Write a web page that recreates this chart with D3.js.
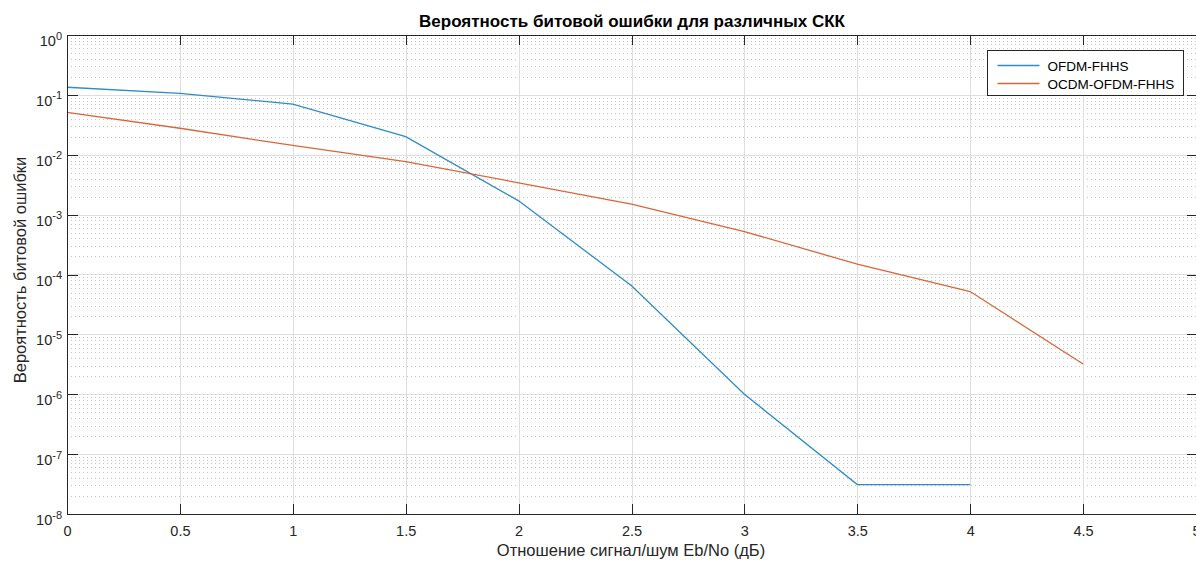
<!DOCTYPE html>
<html lang="ru">
<head>
<meta charset="UTF-8">
<title>BER</title>
<style>
	body { margin: 0; background: #fff; }
	svg { display: block; font-family: "Liberation Sans", Arial, sans-serif; }
	.Axis path, .Axis line { stroke: #262626; shape-rendering: crispEdges; }
	.Axis text { fill: #262626; font-size: 14.5px; }
	.grid line { shape-rendering: crispEdges; }
</style>
<script src="https://d3js.org/d3.v7.min.js"></script>
</head>
<body>
<script>
	// Eb/No, dB
	var snrOfdm = [0, 0.5, 1, 1.5, 2, 2.5, 3, 3.5, 4];
	var berOfdm = [0.134, 0.106, 0.070, 0.020, 1.7e-3, 6.5e-5, 1.0e-6, 3.1e-8, 3.1e-8];

	var snrOcdm = [0, 0.5, 1, 1.5, 2, 2.5, 3, 3.5, 4, 4.5];
	var berOcdm = [0.051, 0.0277, 0.0143, 7.7e-3, 3.4e-3, 1.5e-3, 5.2e-4, 1.49e-4, 5.2e-5, 3.2e-6];

	var seriesNames = ["OFDM-FHHS", "OCDM-OFDM-FHHS"];
	var xTicks = [0, 0.5, 1, 1.5, 2, 2.5, 3, 3.5, 4, 4.5, 5];
	var yExps = [0, -1, -2, -3, -4, -5, -6, -7, -8];

	const w = 1196, h = 562;
	const pLeft = 67, pRight = 1196, pTop = 35, pBottom = 514;

	const svg = d3.select("body").append("svg")
		.attr("width", w).attr("height", h);

	var xScale = d3.scaleLinear().domain([0, 5]).range([pLeft, pRight]);
	var yScale = d3.scaleLog().domain([1e-8, 1]).range([pBottom, pTop]);

	// grid
	var minor = [];
	yExps.slice(1).forEach(function(e) {
		for (let k = 2; k <= 9; k++) minor.push(k * Math.pow(10, e));
	});
	var g = svg.append("g").attr("class", "grid");
	g.selectAll(".minor").data(minor).enter().append("line")
		.attr("x1", pLeft).attr("x2", pRight)
		.attr("y1", d => Math.round(yScale(d)) + 0.5).attr("y2", d => Math.round(yScale(d)) + 0.5)
		.attr("stroke", "#c4c4c4").attr("stroke-dasharray", "1,3");
	g.selectAll(".hmaj").data(yExps).enter().append("line")
		.attr("x1", pLeft).attr("x2", pRight)
		.attr("y1", d => Math.round(yScale(Math.pow(10, d))) + 0.5)
		.attr("y2", d => Math.round(yScale(Math.pow(10, d))) + 0.5)
		.attr("stroke", "#dedede");
	g.selectAll(".vmaj").data(xTicks).enter().append("line")
		.attr("y1", pTop).attr("y2", pBottom)
		.attr("x1", d => Math.round(xScale(d)) + 0.5).attr("x2", d => Math.round(xScale(d)) + 0.5)
		.attr("stroke", "#dedede");

	// lines
	var line = d3.line().x(d => xScale(d[0])).y(d => yScale(d[1]));
	var colors = ["#2f8cc6", "#d9663a"];
	[[snrOfdm, berOfdm], [snrOcdm, berOcdm]].forEach(function(s, i) {
		svg.append("path")
			.datum(s[0].map((x, j) => [x, s[1][j]]))
			.attr("d", line)
			.attr("fill", "none")
			.attr("stroke", colors[i])
			.attr("stroke-width", 1.3);
	});

	// axes, ticks pointing in
	var xAxis = d3.axisBottom(xScale).tickValues(xTicks).tickSizeInner(-10).tickSizeOuter(0)
		.tickFormat(d => String(d));
	svg.append("g").attr("class", "Axis x")
		.attr("transform", "translate(0," + pBottom + ")")
		.call(xAxis)
		.selectAll("text").attr("dy", null).attr("y", 22);
	svg.append("g").attr("class", "Axis xt")
		.attr("transform", "translate(0," + pTop + ")")
		.call(d3.axisTop(xScale).tickValues(xTicks).tickSizeInner(-10).tickSizeOuter(0).tickFormat(""));

	var yAxis = d3.axisLeft(yScale).tickValues(yExps.map(e => Math.pow(10, e)))
		.tickSizeInner(-11).tickSizeOuter(0).tickFormat("");
	var ya = svg.append("g").attr("class", "Axis y")
		.attr("transform", "translate(" + pLeft + ",0)")
		.call(yAxis);
	ya.selectAll(".tick").each(function(d) {
		var e = Math.round(Math.log10(d));
		var t = d3.select(this).append("text")
			.attr("x", -5).attr("y", 10.5).attr("text-anchor", "end");
		t.append("tspan").text("10");
		t.append("tspan").attr("dy", -6.5).attr("font-size", "11px").text(String(e));
	});
	svg.append("g").attr("class", "Axis yr")
		.attr("transform", "translate(" + (pRight - 0.5) + ",0)")
		.call(d3.axisRight(yScale).tickValues(yExps.map(e => Math.pow(10, e)))
			.tickSizeInner(-9).tickSizeOuter(0).tickFormat(""));

	// titles
	svg.append("text").attr("x", 632).attr("y", 27).attr("text-anchor", "middle")
		.attr("font-size", "17px").attr("font-weight", "bold").attr("fill", "#000")
		.text("Вероятность битовой ошибки для различных СКК");
	svg.append("text").attr("x", 631).attr("y", 556).attr("text-anchor", "middle")
		.attr("font-size", "16.5px").attr("fill", "#262626")
		.text("Отношение сигнал/шум Eb/No (дБ)");
	svg.append("text").attr("transform", "translate(26,270) rotate(-90)")
		.attr("text-anchor", "middle").attr("font-size", "16.5px").attr("fill", "#262626")
		.text("Вероятность битовой ошибки");

	// legend
	var lg = svg.append("g").attr("transform", "translate(987.5,50.5)");
	lg.append("rect").attr("width", 196).attr("height", 45)
		.attr("fill", "#fff").attr("stroke", "#262626").attr("stroke-width", 1);
	seriesNames.forEach(function(n, i) {
		var yy = 15 + i * 18;
		lg.append("line").attr("x1", 10).attr("x2", 52).attr("y1", yy).attr("y2", yy)
			.attr("stroke", colors[i]).attr("stroke-width", 1.3);
		lg.append("text").attr("x", 60).attr("y", yy + 5)
			.attr("font-size", "13.5px").attr("fill", "#000").text(n);
	});
</script>
</body>
</html>
